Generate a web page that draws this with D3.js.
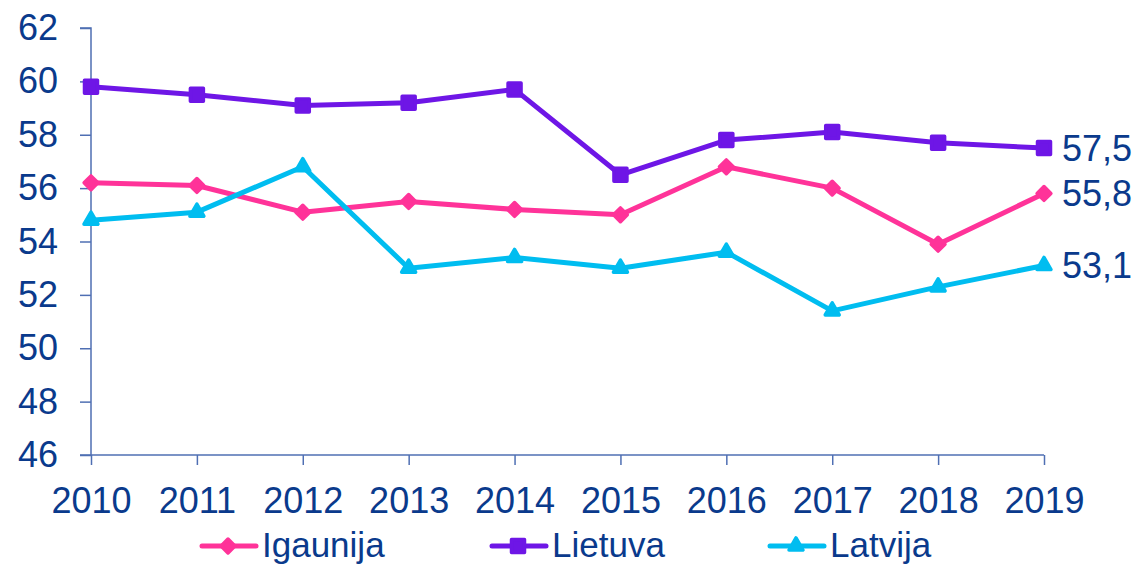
<!DOCTYPE html>
<html>
<head>
<meta charset="utf-8">
<script src="https://cdn.jsdelivr.net/npm/d3@7"></script>
<style>
  body { margin: 0; background: #fff; }
  svg text { font-family: "Liberation Sans", Arial, sans-serif; fill: #0a3a8c; }
</style>
</head>
<body>
<svg id="chart"></svg>
<script>
const years = ['2010', '2011', '2012', '2013', '2014', '2015', '2016', '2017', '2018', '2019'];
const igaunija = [56.2, 56.1, 55.1, 55.5, 55.2, 55.0, 56.8, 56.0, 53.9, 55.8];
const lietuva = [59.8, 59.5, 59.1, 59.2, 59.7, 56.5, 57.8, 58.1, 57.7, 57.5];
const latvija = [54.8, 55.1, 56.8, 53.0, 53.4, 53.0, 53.6, 51.4, 52.3, 53.1];
const yTicks = [46, 48, 50, 52, 54, 56, 58, 60, 62];

const W = 1143, H = 567;
const X0 = 91, X1 = 1044, Y_TOP = 28, Y_BOT = 455;
const LEGEND_Y = 546;
const TEXT = '#0a3a8c', AXIS = '#4f6fb3';

// rotate = 45 turns the square symbol into the rounded diamond
const series = [
  { name: 'Igaunija', values: igaunija, color: '#ff3399', symbol: d3.symbolSquare, size: 95, rotate: 45, legendX: 200 },
  { name: 'Lietuva', values: lietuva, color: '#6e16e6', symbol: d3.symbolSquare, size: 169, rotate: 0, legendX: 490 },
  { name: 'Latvija', values: latvija, color: '#00bdf0', symbol: d3.symbolTriangle, size: 85, rotate: 0, legendX: 768 },
];

const svg = d3.select('#chart').attr('width', W).attr('height', H);

const x = d3.scalePoint().domain(years).range([X0, X1]);
const y = d3.scaleLinear().domain([46, 62]).range([Y_BOT, Y_TOP]);

const yAxis = svg.append('g')
  .attr('transform', `translate(${X0},0)`)
  .call(d3.axisLeft(y).tickValues(yTicks).tickSize(11).tickPadding(22));

const xAxis = svg.append('g')
  .attr('transform', `translate(0,${Y_BOT})`)
  .call(d3.axisBottom(x).tickSize(10).tickPadding(22));

[yAxis, xAxis].forEach(ax => {
  ax.select('.domain').attr('stroke', AXIS).attr('stroke-width', 1.5);
  ax.selectAll('.tick line').attr('stroke', AXIS).attr('stroke-width', 1.5);
  ax.selectAll('.tick text').attr('fill', TEXT).style('font-size', '36px')
    .style('font-family', '"Liberation Sans", Arial, sans-serif');
});
xAxis.select('.domain').attr('d', `M${X0},0H${X1}`);
yAxis.select('.domain').attr('d', `M-11,${Y_TOP}H0V${Y_BOT}H-11`);

const line = d3.line().x((d, i) => x(years[i])).y(d => y(d));

function marker(sel, s) {
  sel.attr('d', d3.symbol().type(s.symbol).size(s.size))
    .attr('fill', s.color)
    .attr('stroke', s.color)
    .attr('stroke-width', 3.5)
    .attr('stroke-linejoin', 'round');
}

series.forEach(s => {
  svg.append('path')
    .datum(s.values)
    .attr('fill', 'none')
    .attr('stroke', s.color)
    .attr('stroke-width', 5)
    .attr('stroke-linejoin', 'round')
    .attr('d', line);

  svg.selectAll(null)
    .data(s.values)
    .enter()
    .append('path')
    .attr('transform', (d, i) => `translate(${x(years[i])},${y(d)}) rotate(${s.rotate})`)
    .call(marker, s);

  const last = s.values[s.values.length - 1];
  svg.append('text')
    .attr('x', X1 + 18)
    .attr('y', y(last))
    .attr('dy', '0.35em')
    .style('font-size', '36px')
    .text(last.toFixed(1).replace('.', ','));

  // legend
  const lg = svg.append('g').attr('transform', `translate(${s.legendX},${LEGEND_Y})`);
  lg.append('line')
    .attr('x1', 2).attr('x2', 56)
    .attr('stroke', s.color).attr('stroke-width', 5).attr('stroke-linecap', 'round');
  lg.append('path')
    .attr('transform', `translate(28,0) rotate(${s.rotate})`)
    .call(marker, s);
  lg.append('text')
    .attr('x', 62)
    .attr('dy', '0.32em')
    .style('font-size', '35px')
    .text(s.name);
});
</script>
</body>
</html>
